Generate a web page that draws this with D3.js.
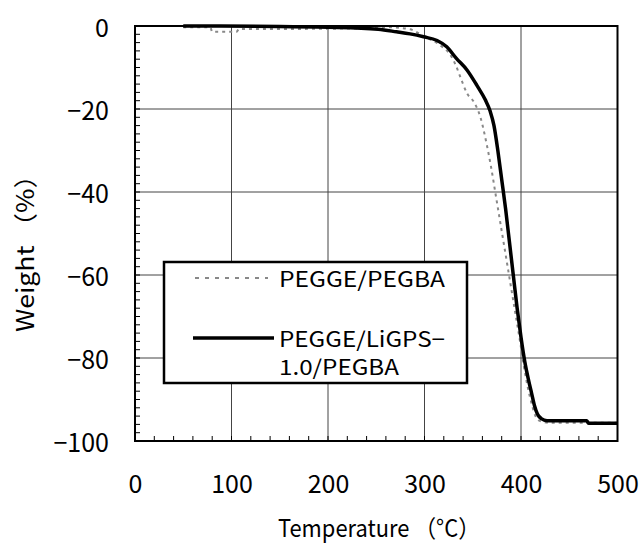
<!DOCTYPE html>
<html><head><meta charset="utf-8">
<script src="https://cdn.jsdelivr.net/npm/d3@7"></script>
<style>
html,body{margin:0;padding:0;background:#fff;}
text{font-family:"Noto Sans CJK JP","Noto Sans",sans-serif;fill:#000;}
</style></head>
<body><svg id="c" width="640" height="543"></svg>
<script>
// Data
const xTickLabels = [0, 100, 200, 300, 400, 500];
const yTickLabels = [0, -20, -40, -60, -80, -100];
const seriesNames = ["PEGGE/PEGBA", "PEGGE/LiGPS−", "1.0/PEGBA"];
const tempPEGBA   = [50, 78, 80, 105, 108, 160, 250, 262, 285, 300, 316, 328, 333, 337, 344, 352, 358, 364, 369, 374, 379, 384, 389, 394, 399, 403, 407, 411, 415, 420, 430, 500];
const weightPEGBA = [-0.3, -0.3, -1.4, -1.4, -0.7, -0.7, -0.5, -0.3, -0.8, -2.6, -4.6, -7.4, -9.8, -12.2, -16.2, -18.6, -22, -28, -34, -41, -48, -55, -62, -69, -76, -82, -87, -91, -94, -95.2, -95.6, -95.6];
const tempLiGPS   = [50, 150, 200, 252, 271, 285, 299, 313, 323, 333, 344, 354, 363, 368, 372, 376, 380, 384, 388, 392, 396, 400, 404, 408, 411, 414, 417, 421, 427, 468, 470, 500];
const weightLiGPS = [0, -0.1, -0.3, -0.8, -1.4, -1.9, -2.6, -3.5, -5, -7.8, -10.6, -14.2, -17.8, -20.5, -24, -30, -37, -44, -52, -60, -68, -75, -81, -85.5, -88.5, -91.5, -93.5, -94.6, -95.1, -95.1, -95.7, -95.7];

const svg = d3.select("#c");
const L = 135, R = 617.5, T = 26, B = 441;
const x = d3.scaleLinear().domain([0, 500]).range([L, R]);
const y = d3.scaleLinear().domain([-100, 0]).range([B, T]);

// gridlines
const g = svg.append("g");
g.selectAll("line.vg").data(xTickLabels.slice(1, -1)).enter().append("line")
  .attr("x1", d => x(d)).attr("x2", d => x(d)).attr("y1", T).attr("y2", B)
  .attr("stroke", "#444").attr("stroke-width", 1);
g.selectAll("line.hg").data(yTickLabels.slice(1, -1)).enter().append("line")
  .attr("y1", d => y(d)).attr("y2", d => y(d)).attr("x1", L).attr("x2", R)
  .attr("stroke", "#444").attr("stroke-width", 1);

// minor ticks (inward)
g.selectAll("line.xt").data(d3.range(0, 501, 20)).enter().append("line")
  .attr("x1", d => x(d)).attr("x2", d => x(d)).attr("y1", B).attr("y2", B - 5)
  .attr("stroke", "#000").attr("stroke-width", 1);
g.selectAll("line.yt").data(d3.range(-100, 1, 2)).enter().append("line")
  .attr("y1", d => y(d)).attr("y2", d => y(d)).attr("x1", L).attr("x2", L + 5)
  .attr("stroke", "#000").attr("stroke-width", 1);

// tick labels via axes
const xAxis = svg.append("g").attr("transform", `translate(0,${B})`)
  .call(d3.axisBottom(x).tickValues(xTickLabels).tickSize(0).tickPadding(34).tickFormat(d3.format("d")));
xAxis.select(".domain").remove();
xAxis.selectAll("text").attr("font-size", 25).attr("font-family", '"Noto Sans CJK JP",sans-serif').attr("fill", "#000");

const yAxis = svg.append("g").attr("transform", `translate(${L},0)`)
  .call(d3.axisLeft(y).tickValues(yTickLabels).tickSize(0).tickPadding(26).tickFormat(d => d < 0 ? "−" + Math.abs(d) : d));
yAxis.select(".domain").remove();
yAxis.selectAll("text").attr("font-size", 25).attr("dy", "0.4em").attr("font-family", '"Noto Sans CJK JP",sans-serif').attr("fill", "#000");

// lines
const mk = (ts, ws) => ts.map((t, i) => [t, ws[i]]);
const line = d3.line().x(d => x(d[0])).y(d => y(d[1])).curve(d3.curveMonotoneX);
svg.append("path").datum(mk(tempPEGBA, weightPEGBA)).attr("d", line)
  .attr("fill", "none").attr("stroke", "#888").attr("stroke-width", 2).attr("stroke-dasharray", "3,4");
svg.append("path").datum(mk(tempLiGPS, weightLiGPS)).attr("d", line)
  .attr("fill", "none").attr("stroke", "#000").attr("stroke-width", 3.5);

// frame
svg.append("rect").attr("x", L).attr("y", T).attr("width", R - L).attr("height", B - T)
  .attr("fill", "none").attr("stroke", "#000").attr("stroke-width", 2);

// legend
const lg = svg.append("g");
lg.append("rect").attr("x", 164).attr("y", 262).attr("width", 303).attr("height", 121)
  .attr("fill", "#fff").attr("stroke", "#000").attr("stroke-width", 2.5);
lg.append("line").attr("x1", 195).attr("x2", 268).attr("y1", 278).attr("y2", 278)
  .attr("stroke", "#888").attr("stroke-width", 2).attr("stroke-dasharray", "4,6");
lg.append("line").attr("x1", 193).attr("x2", 274).attr("y1", 338).attr("y2", 338)
  .attr("stroke", "#000").attr("stroke-width", 3.5);
lg.append("text").attr("x", 279).attr("y", 287).attr("font-size", 21).attr("textLength", 166).attr("lengthAdjust", "spacingAndGlyphs").text(seriesNames[0]);
lg.append("text").attr("x", 279).attr("y", 347).attr("font-size", 21).attr("textLength", 166).attr("lengthAdjust", "spacingAndGlyphs").text(seriesNames[1]);
lg.append("text").attr("x", 279).attr("y", 375).attr("font-size", 21).attr("textLength", 120).attr("lengthAdjust", "spacingAndGlyphs").text(seriesNames[2]);

// axis titles
svg.append("text").attr("x", 278).attr("y", 537).attr("font-size", 24)
  .attr("textLength", 202).attr("lengthAdjust", "spacingAndGlyphs").text("Temperature （°C）");
svg.append("text").attr("transform", "translate(34,332) rotate(-90)").attr("font-size", 24)
  .attr("textLength", 170).attr("lengthAdjust", "spacingAndGlyphs").text("Weight （%）");
</script></body></html>
